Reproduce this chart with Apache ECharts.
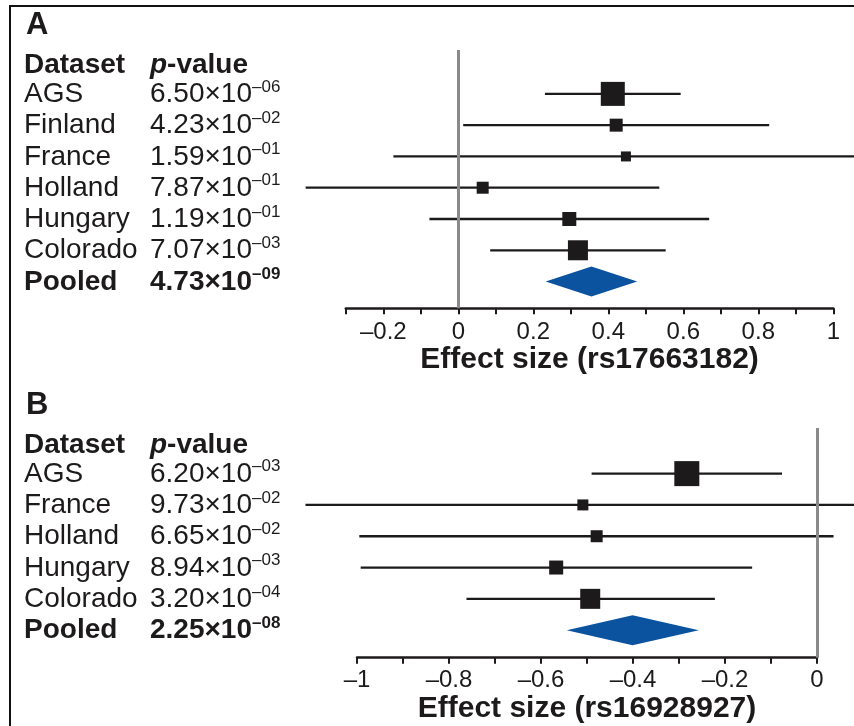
<!DOCTYPE html>
<html lang="en">
<head>
<meta charset="UTF-8">
<title>Forest plots</title>
<script src="https://cdn.jsdelivr.net/npm/echarts@6/dist/echarts.min.js"></script>
<style>
  html, body { margin: 0; padding: 0; background: #fff; }
  #main { width: 854px; height: 726px; }
</style>
</head>
<body>
<div id="main"></div>
<script type="text/javascript">
// ---- panel A : rs17663182 ----
var datasetsA = ['AGS', 'Finland', 'France', 'Holland', 'Hungary', 'Colorado'];
var pMantA = ['6.50', '4.23', '1.59', '7.87', '1.19', '7.07'];
var pExpA = ['06', '02', '01', '01', '01', '03'];
var effectA = [0.412, 0.421, 0.447, 0.065, 0.296, 0.319];
var lowA = [0.231, 0.013, -0.173, -0.407, -0.077, 0.085];
var highA = [0.593, 0.829, 1.067, 0.536, 0.669, 0.553];
var weightA = [24, 13, 10, 12, 14, 20];
var pooledA = [0.233, 0.355, 0.477];   // low, estimate, high
var pooledPA = ['4.73', '09'];

// ---- panel B : rs16928927 ----
var datasetsB = ['AGS', 'France', 'Holland', 'Hungary', 'Colorado'];
var pMantB = ['6.20', '9.73', '6.65', '8.94', '3.20'];
var pExpB = ['03', '02', '02', '03', '04'];
var effectB = [-0.283, -0.509, -0.479, -0.567, -0.493];
var lowB = [-0.490, -1.112, -0.995, -0.992, -0.762];
var highB = [-0.076, 0.094, 0.036, -0.141, -0.222];
var weightB = [25, 11, 12, 14, 20];
var pooledB = [-0.544, -0.401, -0.257];
var pooledPB = ['2.25', '08'];

var FONT = '"Liberation Sans", Arial, Helvetica, sans-serif';
var INK = '#1d1a1b';
var BLUE = '#0b529f';
var COL_NAME = 24, COL_P = 150, TEXT_DY = 0.5, HEAD_DY = 2.5;
var MINUS = '\u2013';

var RICH = {
    n: { fontSize: 28, fontFamily: FONT, fill: INK, lineHeight: 32 },
    b: { fontSize: 28, fontFamily: FONT, fontWeight: 'bold', fill: INK, lineHeight: 32 },
    bi: { fontSize: 28, fontFamily: FONT, fontWeight: 'bold', fontStyle: 'italic', fill: INK, lineHeight: 32 },
    s: { fontSize: 17, fontFamily: FONT, fill: INK, lineHeight: 25, verticalAlign: 'top' },
    bs: { fontSize: 17, fontFamily: FONT, fontWeight: 'bold', fill: INK, lineHeight: 25, verticalAlign: 'top' }
};

var chart = echarts.init(document.getElementById('main'));

function tickLabel(v) {
    var t = Math.round(v * 10);
    if (t % 2 !== 0) return '';
    if (t === 0) return '0';
    var s = (Math.abs(t) % 10 === 0) ? String(Math.abs(t) / 10) : (Math.abs(t) / 10).toFixed(1);
    return (t < 0 ? MINUS : '') + s;
}

function xAxisFor(gi, min, max, name, margin) {
    return {
        type: 'value', gridIndex: gi, min: min, max: max, interval: 0.1,
        splitLine: { show: false },
        axisLine: { show: true, onZero: false, lineStyle: { color: INK, width: 2.5 } },
        axisTick: { show: true, length: 6, lineStyle: { color: INK, width: 2 } },
        axisLabel: {
            margin: margin, fontSize: 24, fontFamily: FONT, color: INK,
            hideOverlap: false, showMinLabel: true, showMaxLabel: true,
            formatter: function (v) { return (min < -0.25 && Math.round(v * 10) === -3) ? '' : tickLabel(v); }
        },
        name: name, nameLocation: 'middle', nameGap: 35,
        nameTextStyle: { fontSize: 30, fontWeight: 'bold', fontFamily: FONT, color: INK }
    };
}

function yAxisFor(gi, min, max) {
    return { type: 'value', gridIndex: gi, inverse: true, min: min, max: max, show: false };
}

// build the series for one panel
function panelSeries(gi, names, mants, exps, eff, low, high, wt, pooled, pooledP) {
    var nRows = names.length;
    var ciData = names.map(function (_, i) { return [low[i], high[i], i + 1]; });
    var sqData = names.map(function (_, i) { return [eff[i], i + 1, wt[i]]; });
    var labelData = [];
    for (var r = 0; r <= nRows + 1; r++) labelData.push([0, r]);

    return [
        {
            type: 'custom', xAxisIndex: gi, yAxisIndex: gi, clip: false, z: 3,
            encode: { x: [0, 1], y: 2 },
            data: ciData,
            renderItem: function (params, api) {
                var a = api.coord([api.value(0), api.value(2)]);
                var b = api.coord([api.value(1), api.value(2)]);
                return { type: 'line', shape: { x1: a[0], y1: a[1], x2: b[0], y2: b[1] },
                         style: { stroke: INK, lineWidth: 2.3 } };
            }
        },
        {
            type: 'scatter', xAxisIndex: gi, yAxisIndex: gi, z: 4, symbol: 'rect',
            symbolSize: function (d) { return d[2]; },
            itemStyle: { color: INK, opacity: 1 },
            data: sqData,
            markLine: {
                silent: true, symbol: 'none', label: { show: false },
                lineStyle: { color: '#8a8a8a', width: 3, type: 'solid' },
                data: [{ xAxis: 0 }]
            }
        },
        {
            type: 'custom', xAxisIndex: gi, yAxisIndex: gi, clip: false, z: 4,
            encode: { x: [0, 1, 2], y: 3 },
            data: [[pooled[0], pooled[1], pooled[2], nRows + 1]],
            renderItem: function (params, api) {
                var row = api.value(3);
                var l = api.coord([api.value(0), row]);
                var c = api.coord([api.value(1), row]);
                var r = api.coord([api.value(2), row]);
                return { type: 'polygon',
                         shape: { points: [l, [c[0], c[1] - 15], r, [c[0], c[1] + 15]] },
                         style: { fill: BLUE } };
            }
        },
        {
            type: 'custom', xAxisIndex: gi, yAxisIndex: gi, clip: false, z: 5, silent: true,
            encode: { x: 0, y: 1 },
            data: labelData,
            renderItem: function (params, api) {
                var i = params.dataIndex;
                var y = api.coord([0, api.value(1)])[1] + TEXT_DY;
                var nameText, pText;
                if (i === 0) {
                    y += HEAD_DY;
                    nameText = '{b|Dataset}';
                    pText = '{bi|p}{b|-value}';
                } else if (i === nRows + 1) {
                    nameText = '{b|Pooled}';
                    pText = '{b|' + pooledP[0] + '\u00d710}{bs|' + MINUS + pooledP[1] + '}';
                } else {
                    nameText = '{n|' + names[i - 1] + '}';
                    pText = '{n|' + mants[i - 1] + '\u00d710}{s|' + MINUS + exps[i - 1] + '}';
                }
                return { type: 'group', children: [
                    { type: 'text', x: COL_NAME, y: y,
                      style: { text: nameText, rich: RICH, align: 'left', verticalAlign: 'middle' } },
                    { type: 'text', x: COL_P, y: y,
                      style: { text: pText, rich: RICH, align: 'left', verticalAlign: 'middle' } }
                ] };
            }
        }
    ];
}

var option = {
    backgroundColor: '#fff',
    animation: false,
    grid: [
        { left: 345.8, right: 20.7, top: 50, bottom: 417.7, containLabel: false, outerBoundsMode: 'none' },
        { left: 357, right: 37, top: 428, bottom: 68.3, containLabel: false, outerBoundsMode: 'none' }
    ],
    xAxis: [
        xAxisFor(0, -0.3, 1.0, 'Effect size (rs17663182)', 12),
        xAxisFor(1, -1.0, 0, 'Effect size (rs16928927)', 11)
    ],
    yAxis: [
        yAxisFor(0, -0.403, 7.855),
        yAxisFor(1, -0.457, 6.88)
    ],
    graphic: [
        { type: 'line', shape: { x1: 10, y1: 6, x2: 854, y2: 6 }, style: { stroke: '#111', lineWidth: 2 } },
        { type: 'line', shape: { x1: 10, y1: 5, x2: 10, y2: 726 }, style: { stroke: '#111', lineWidth: 2 } },
        { type: 'text', x: 26, y: 25, style: { text: 'A', font: 'bold 31px ' + FONT, fill: INK, verticalAlign: 'middle' } },
        { type: 'text', x: 26, y: 405, style: { text: 'B', font: 'bold 31px ' + FONT, fill: INK, verticalAlign: 'middle' } }
    ],
    series: panelSeries(0, datasetsA, pMantA, pExpA, effectA, lowA, highA, weightA, pooledA, pooledPA)
        .concat(panelSeries(1, datasetsB, pMantB, pExpB, effectB, lowB, highB, weightB, pooledB, pooledPB))
};

chart.setOption(option);
</script>
</body>
</html>
